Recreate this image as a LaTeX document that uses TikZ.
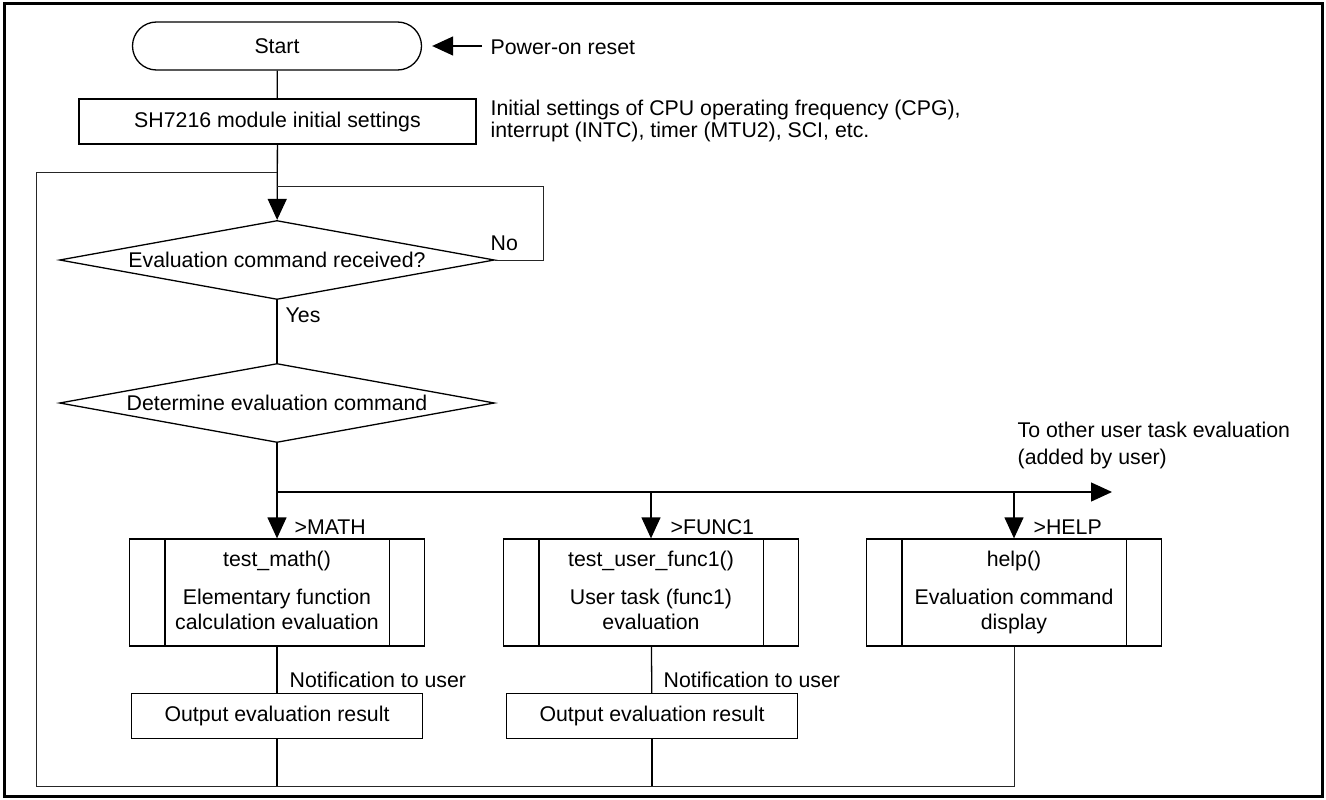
\documentclass[tikz,border=0pt]{standalone}
\usepackage{fontspec}
\setmainfont{Liberation Sans}
\usetikzlibrary{positioning,arrows.meta,shapes.geometric,shapes.misc,calc}

\begin{document}
\begin{tikzpicture}[x=1pt, y=-1pt,
  font=\fontsize{21.3pt}{25pt}\selectfont,
  line width=1.3pt,
  term/.style={rounded rectangle, draw, minimum width=289pt, minimum height=48pt, inner sep=0pt},
  proc/.style={rectangle, draw, minimum width=#1, minimum height=45pt, inner sep=0pt},
  proc/.default=291pt,
  dec/.style={diamond, draw, shape aspect=5.5, minimum width=435pt, minimum height=79pt, inner sep=0pt},
  subr/.style={rectangle, draw, minimum width=295pt, minimum height=107pt, inner sep=0pt, align=center},
  lb/.style={inner sep=0pt, anchor=west},
  ar/.style={-{Triangle[length=21pt, width=19pt]}},
  ln/.style={line width=1pt, black!85}
]
\useasboundingbox (0,0) rectangle (1326,800);
\draw[line width=3pt] (4,4) rectangle (1322,796);

% main column
\node[term] (start) at (277,46) {Start};
\node[proc=397pt] (init) at (277.5,121.5) {SH7216 module initial settings};
\node[dec] (recv) at (277,260) {Evaluation command received?};
\node[dec] (cmd)  at (277,403) {Determine evaluation command};

\coordinate (loop)   at (277,172);
\coordinate (nojoin) at (277,186);
\coordinate (br)     at (277,492);
\coordinate (other)  at (1112,492);
\coordinate (back)   at (36,786);

% evaluation routines
\node[subr] (math) at (277,592.5) {test\_math()\\[13pt]Elementary function\\calculation evaluation\vphantom{y}};
\node[subr] (func) at (651,592.5) {test\_user\_func1()\\[13pt]User task (func1)\\evaluation\vphantom{y}};
\node[subr] (help) at (1014,592.5) {help()\\[13pt]Evaluation command\\display};
\foreach \n in {math,func,help}{
  \draw ([xshift=36pt]\n.north west) -- ([xshift=36pt]\n.south west);
  \draw ([xshift=-36pt]\n.north east) -- ([xshift=-36pt]\n.south east);
}
\node[proc] (outm) at (277,716) {Output evaluation result};
\node[proc] (outf) at (652,716) {Output evaluation result};

% labels
\node[lb] (pwr) at (490,47) {Power-on reset};
\node[lb, align=left, font=\fontsize{21.3pt}{22pt}\selectfont] (initnote) at (490,121)
  {Initial settings of CPU operating frequency (CPG),\\interrupt (INTC), timer (MTU2), SCI, etc.};
\node[lb] (no)  at (490,243) {No};
\node[lb] (yes) at (285,315) {Yes};
\node[lb, align=left, font=\fontsize{21.3pt}{27pt}\selectfont] (otherl) at (1017,445)
  {To other user task evaluation\\(added by user)};
\node[lb] (lmath) at (294,527) {>MATH};
\node[lb] (lfunc) at (670,527) {>FUNC1};
\node[lb] (lhelp) at (1033,527) {>HELP};
\node[lb] (nm) at (289,680) {Notification to user};
\node[lb] (nf) at (663,680) {Notification to user};

% connectors
\draw[ar, shorten <=8pt, shorten >=10pt] (pwr.west |- start.east) -- (start.east);
\draw (start) -- (init);
\draw[ar] (init) -- (recv);
\draw[ln] (recv.east) -- ++(48,0) |- (nojoin);
\draw (recv) -- (cmd);
\draw[ar] (cmd) -- (math);
\draw[ar] (br) -- (other);
\draw[ar] (func.north |- br) -- (func);
\draw[ar] (help.north |- br) -- (help);
\draw (math) -- (outm);
\draw (func) -- (outf);
\draw (outm) -- (outm.south |- back);
\draw (outf) -- (outf.south |- back);
\draw[ln] (help) |- (back) |- (loop);
\end{tikzpicture}
\end{document}
